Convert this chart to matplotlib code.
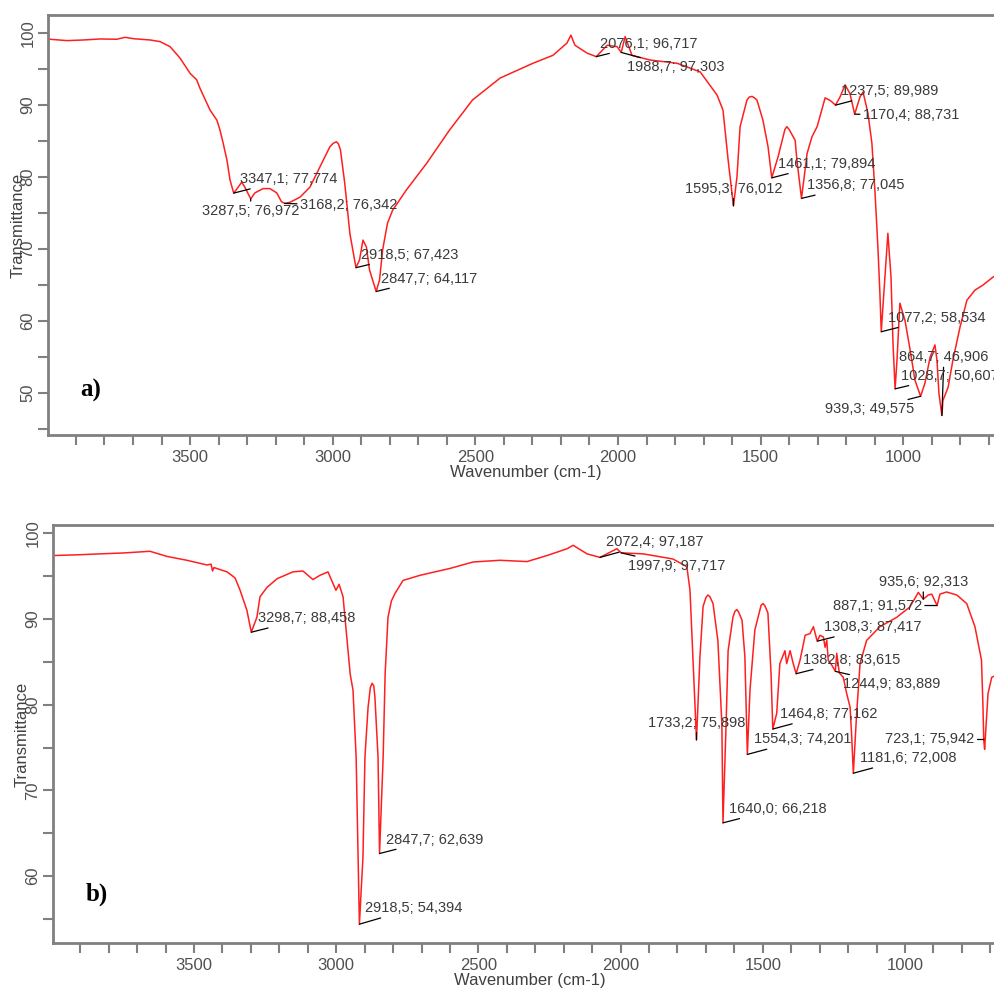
import matplotlib
matplotlib.use("Agg")
import matplotlib.pyplot as plt
from matplotlib.ticker import MultipleLocator

# --- spectrum a) ---
wn_a = [3998, 3991, 3932, 3874, 3815, 3757, 3728, 3699, 3640, 3605, 3570, 3535, 3500, 3477,
        3465, 3430, 3406, 3395, 3384, 3371, 3360, 3347.1, 3335, 3319, 3308, 3287.5, 3273, 3244,
        3220, 3196, 3180, 3168.2, 3150, 3115, 3080, 3045, 3010, 2998, 2987, 2980, 2973, 2958,
        2940, 2918.5, 2906, 2894, 2882, 2871, 2847.7, 2836, 2825, 2808, 2790, 2742, 2671, 2591,
        2510, 2413, 2298, 2228, 2179, 2165, 2151, 2108, 2076.1, 2038, 2003, 1988.7, 1975, 1951,
        1888, 1793, 1712, 1653, 1632, 1614, 1595.3, 1583, 1572, 1548, 1540, 1530, 1522, 1513,
        1492, 1474, 1461.1, 1439, 1415, 1408, 1400, 1379, 1373, 1356.8, 1337, 1320, 1302, 1274,
        1255, 1237.5, 1222, 1204, 1187, 1170.4, 1152, 1141, 1124, 1110, 1099, 1089, 1082,
        1077.2, 1068, 1054, 1043, 1036, 1028.7, 1022, 1012, 994, 976, 959, 939.3, 924, 906, 889,
        882, 875, 864.7, 861, 843, 826, 801, 777, 749, 721, 686, 675]
tr_a = [99.2, 99.13, 98.94, 99.03, 99.17, 99.13, 99.4, 99.21, 99.03, 98.8, 98.1, 96.5, 94.4, 93.5,
        92.3, 89.3, 87.9, 86.5, 84.7, 82.4, 79.6, 77.774, 78.4, 79.3, 78.6, 76.972, 77.8, 78.4,
        78.4, 77.8, 76.6, 76.342, 76.5, 77.2, 78.6, 81.4, 84.2, 84.7, 84.9, 84.6, 83.8, 79.2,
        72.2, 67.423, 68.5, 71.25, 70.3, 67.1, 64.117, 65.7, 69.9, 73.6, 75.4, 78.2, 81.9, 86.5,
        90.7, 93.75, 95.8, 96.9, 98.6, 99.7, 98.3, 97.2, 96.717, 98.3, 98.1, 97.303, 99.5, 96.9,
        96.25, 95.8, 94.6, 91.4, 89.3, 82.4, 76.012, 80.0, 87.0, 90.7, 91.1, 91.2, 91.0, 90.7,
        87.9, 84.2, 79.894, 82.8, 86.6, 87.0, 86.6, 85.1, 82.4, 77.045, 83.3, 85.6, 87.0, 91.0,
        90.6, 89.989, 91.1, 92.8, 91.6, 88.731, 91.1, 91.8, 88.9, 84.7, 77.8, 70.3, 63.9,
        58.534, 63.9, 72.2, 66.1, 56.9, 50.607, 54.6, 62.5, 60.1, 56.0, 51.8, 49.575, 51.4, 55.0,
        56.7, 54.6, 50.0, 46.906, 49.0, 50.8, 54.6, 59.2, 62.9, 64.3, 65.0, 66.1, 66.4]
peaks_a = [3347.1, 3287.5, 3168.2, 2918.5, 2847.7, 2076.1, 1988.7, 1237.5, 1170.4, 1461.1,
           1595.3, 1356.8, 1077.2, 864.7, 1028.7, 939.3]
peak_tr_a = [77.774, 76.972, 76.342, 67.423, 64.117, 96.717, 97.303, 89.989, 88.731, 79.894,
             76.012, 77.045, 58.534, 46.906, 50.607, 49.575]

# --- spectrum b) ---
wn_b = [3996, 3900, 3830, 3750, 3655, 3595, 3525, 3454, 3440, 3435, 3430, 3384, 3356, 3338,
        3314, 3298.7, 3279, 3268, 3243, 3208, 3152, 3117, 3082, 3057, 3029, 3011, 3001, 2990,
        2976, 2962, 2951, 2941, 2930, 2923, 2918.5, 2906, 2899, 2888, 2880, 2874, 2868, 2864,
        2853, 2847.7, 2835, 2828, 2818, 2806, 2793, 2765, 2705, 2600, 2519, 2424, 2329, 2259,
        2188, 2167, 2118, 2072.4, 2013, 1997.9, 1921, 1816, 1767, 1756, 1746, 1733.2, 1721,
        1710, 1700, 1693, 1686, 1675, 1658, 1644, 1640.0, 1629, 1622, 1605, 1598, 1591, 1585,
        1573, 1563, 1554.3, 1545, 1528, 1506, 1499, 1492, 1482, 1471, 1464.8, 1451, 1440, 1422,
        1416, 1404, 1393, 1382.8, 1369, 1351, 1334, 1322, 1311, 1308.3, 1299, 1287, 1281, 1275,
        1270, 1257, 1244.9, 1240, 1231, 1217, 1205, 1193, 1188, 1181.6, 1170, 1158, 1135, 1088,
        1029, 983, 953, 935.6, 918, 906, 887.1, 877, 854, 818, 783, 754, 731, 726, 723.1, 720,
        708, 695, 680]
tr_b = [97.4, 97.5, 97.6, 97.7, 97.9, 97.3, 96.85, 96.3, 96.4, 95.6, 96.0, 95.5, 94.8, 93.35,
        91.0, 88.458, 90.2, 92.6, 93.7, 94.7, 95.5, 95.6, 94.6, 95.1, 95.5, 94.1, 93.35, 94.05,
        92.6, 87.5, 83.6, 81.7, 73.9, 62.2, 54.394, 62.2, 73.9, 79.7, 82.0, 82.5, 82.2, 80.9,
        73.9, 62.639, 73.9, 83.6, 90.2, 92.1, 93.0, 94.5, 95.1, 95.9, 96.65, 96.85, 96.7, 97.4,
        98.2, 98.6, 97.6, 97.187, 98.2, 97.717, 97.6, 97.0, 96.1, 93.35, 85.6, 75.898, 85.6,
        91.45, 92.5, 92.8, 92.6, 91.8, 87.5, 77.8, 66.218, 77.8, 86.3, 90.2, 90.9, 91.1, 90.8,
        89.85, 85.6, 74.201, 81.7, 88.7, 91.6, 91.8, 91.5, 90.7, 83.6, 77.162, 79.0, 84.8, 86.3,
        84.8, 86.3, 84.8, 83.615, 85.2, 88.1, 88.3, 89.1, 87.7, 87.417, 88.1, 87.9, 86.7, 87.5,
        85.2, 84.6, 83.889, 86.0, 83.7, 83.2, 81.3, 79.7, 76.7, 72.008, 79.0, 84.8, 87.5, 89.1,
        90.2, 91.4, 93.1, 92.313, 92.8, 92.9, 91.572, 92.9, 93.15, 92.8, 91.8, 89.1, 85.2, 80.0,
        75.942, 74.8, 81.3, 83.2, 83.4]
peaks_b = [3298.7, 2847.7, 2918.5, 2072.4, 1997.9, 935.6, 887.1, 1308.3, 1382.8, 1244.9,
           1733.2, 1464.8, 1554.3, 1181.6, 1640.0, 723.1]
peak_tr_b = [88.458, 62.639, 54.394, 97.187, 97.717, 92.313, 91.572, 87.417, 83.615, 83.889,
             75.898, 77.162, 74.201, 72.008, 66.218, 75.942]

# label placement (pixels from the peak: dx, dy up, horizontal alignment)
place_a = [(6, 14, 'left'), (0, -12, 'center'), (15, -2, 'left'), (5, 13, 'left'),
           (5, 13, 'left'), (4, 13, 'left'), (6, -15, 'left'), (5, 14, 'left'),
           (8, -1, 'left'), (6, 14, 'left'), (0, 17, 'center'), (6, 13, 'left'),
           (7, 14, 'left'), (2, 58, 'center'), (6, 13, 'left'), (-6, -13, 'right')]
place_b = [(7, 14, 'left'), (6, 14, 'left'), (6, 16, 'left'), (6, 15, 'left'),
           (7, -13, 'left'), (0, 17, 'center'), (-15, 0, 'right'), (7, 14, 'left'),
           (7, 14, 'left'), (8, -13, 'left'), (0, 17, 'center'), (7, 15, 'left'),
           (7, 15, 'left'), (7, 15, 'left'), (6, 14, 'left'), (-9, 0, 'right')]

plt.rcParams['font.family'] = ['Liberation Sans', 'DejaVu Sans']
GRAY = '#808080'

fig = plt.figure(figsize=(9.94, 9.92), dpi=100)
ax_a = fig.add_axes([0.0483, 0.5615, 0.9517, 0.4234])
ax_b = fig.add_axes([0.0533, 0.0494, 0.9467, 0.4214])


def draw(ax, wn, tr, peaks, ptr, place, xlim, ylim, tag, tag_xy, xlab_x, ylab_x):
    ax.plot(wn, tr, color='#ff1f1f', lw=1.1)
    ax.set_xlim(*xlim)
    ax.set_ylim(*ylim)
    ax.xaxis.set_major_locator(MultipleLocator(500))
    ax.xaxis.set_minor_locator(MultipleLocator(100))
    ax.yaxis.set_major_locator(MultipleLocator(10))
    ax.yaxis.set_minor_locator(MultipleLocator(5))
    ax.tick_params(which='both', direction='out', length=7, width=1.5, color=GRAY,
                   labelcolor='#505050', labelsize=12)
    ax.tick_params(axis='y', labelrotation=90, pad=2)
    ax.tick_params(axis='x', pad=4)
    for lab in ax.get_yticklabels():
        lab.set_va('center')
    for side in ['left', 'top', 'bottom']:
        ax.spines[side].set_color(GRAY)
        ax.spines[side].set_linewidth(2)
    ax.spines['right'].set_visible(False)
    ax.set_xlabel('Wavenumber (cm-1)', fontsize=12, color='#404040')
    ax.set_ylabel('Transmittance', fontsize=12, color='#404040')
    ax.xaxis.set_label_coords(xlab_x, -0.09)
    ax.xaxis.label.set_va('center')
    ax.yaxis.set_label_coords(ylab_x, 0.5)
    ax.yaxis.label.set_va('center')
    for w, t, (dx, dy, ha) in zip(peaks, ptr, place):
        lbl = f"{w:.1f}; {t:.3f}".replace('.', ',')
        ax.annotate(lbl, xy=(w, t), xytext=(dx, dy), textcoords='offset pixels',
                    ha=ha, va='center', fontsize=10.5, color='#3a3a3a',
                    arrowprops=dict(arrowstyle='-', color='black', lw=0.9,
                                    shrinkA=0, shrinkB=0))
    ax.text(tag_xy[0], tag_xy[1], tag, transform=ax.transAxes, fontsize=18,
            fontweight='bold', family='Liberation Serif', ha='center', va='center')


draw(ax_a, wn_a, tr_a, peaks_a, peak_tr_a, place_a, (3998, 682), (44.2, 102.5),
     'a)', (0.045, 0.107), 0.505, -0.0317)
draw(ax_b, wn_b, tr_b, peaks_b, peak_tr_b, place_b, (3996, 687), (52.2, 100.97),
     'b)', (0.047, 0.117), 0.507, -0.033)

fig.savefig('out.png', dpi=100)
